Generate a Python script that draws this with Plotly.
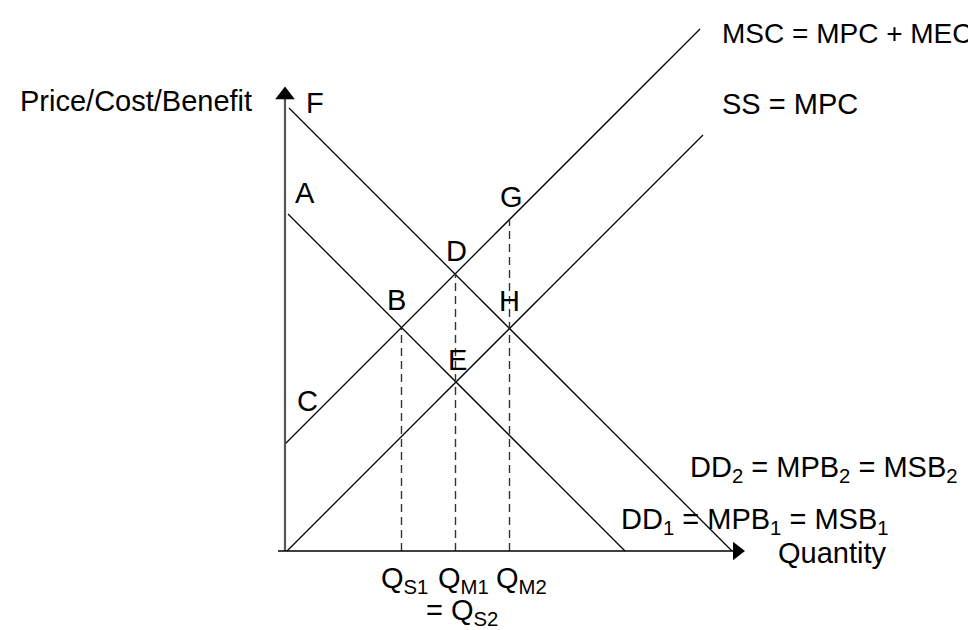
import plotly.graph_objects as go

# ---- curves (units: origin at the axes corner, equal scale on both axes) ----
msc_x = [0, 415]
msc_y = [107, 522]
ss_x = [2, 418]
ss_y = [0, 416]
dd1_x = [3, 340]
dd1_y = [337, 0]
dd2_x = [4, 447]
dd2_y = [443, 0]

# dashed drop lines (quantity, height of the point above it)
q_names = ["QS1", "QM1", "QM2"]
q_x = [116.5, 170.5, 224.5]
q_top = [223.5, 277.5, 331.5]

# axes
yaxis_x = [0, 0]
yaxis_y = [0, 452]
xaxis_x = [-7, 448]
xaxis_y = [0, 0]

# point letters
pt_labels = ["F", "A", "C", "B", "D", "G", "H", "E"]
pt_x = [30, 20, 22, 111, 171, 226, 224, 172]
pt_y = [448, 358, 150, 251, 300, 354, 250, 191]

FONT = dict(family="Liberation Sans, Arial, sans-serif", size=29, color="black")

fig = go.Figure()

def line(x, y, color="black", width=1.3, dash=None):
    fig.add_trace(go.Scatter(x=x, y=y, mode="lines",
                             line=dict(color=color, width=width, dash=dash),
                             hoverinfo="skip", showlegend=False))

line(msc_x, msc_y)
line(ss_x, ss_y)
line(dd1_x, dd1_y)
line(dd2_x, dd2_y)
for qx, qt in zip(q_x, q_top):
    line([qx, qx], [0, qt], color="#333333", width=1.4, dash="8px,5px")

# axes with arrowheads
line(yaxis_x, yaxis_y, color="#555555", width=2.2)
line(xaxis_x, xaxis_y, color="black", width=1.6)
fig.add_trace(go.Scatter(x=[0], y=[yaxis_y[1] + 4], mode="markers",
                         marker=dict(symbol="triangle-up", size=17, color="black"),
                         hoverinfo="skip", showlegend=False))
fig.add_trace(go.Scatter(x=[xaxis_x[1] + 4], y=[0], mode="markers",
                         marker=dict(symbol="triangle-right", size=16, color="black"),
                         hoverinfo="skip", showlegend=False))

ann = []
for t, x, y in zip(pt_labels, pt_x, pt_y):
    ann.append(dict(text=t, x=x, y=y, xanchor="center", yanchor="middle"))

ann += [
    dict(text="Price/Cost/Benefit", x=-267, y=450, xanchor="left", yanchor="middle"),
    dict(text="MSC = MPC + MEC", x=435, y=518, xanchor="left", yanchor="middle",
         font=dict(FONT, size=28)),
    dict(text="SS = MPC", x=435, y=447, xanchor="left", yanchor="middle"),
    dict(text="DD<sub>2</sub> = MPB<sub>2</sub> = MSB<sub>2</sub>", x=403, y=82, xanchor="left", yanchor="middle"),
    dict(text="DD<sub>1</sub> = MPB<sub>1</sub> = MSB<sub>1</sub>", x=334, y=30, xanchor="left", yanchor="middle"),
    dict(text="Quantity", x=491, y=-2, xanchor="left", yanchor="middle"),
    dict(text="Q<sub>S1</sub>", x=94, y=-29, xanchor="left", yanchor="middle"),
    dict(text="Q<sub>M1</sub>", x=151, y=-29, xanchor="left", yanchor="middle"),
    dict(text="Q<sub>M2</sub>", x=209, y=-29, xanchor="left", yanchor="middle"),
    dict(text="= Q<sub>S2</sub>", x=139, y=-61, xanchor="left", yanchor="middle"),
]
for a in ann:
    a.setdefault("font", FONT)
    a.update(showarrow=False, xref="x", yref="y")

fig.update_layout(
    width=976, height=630, autosize=False,
    margin=dict(l=0, r=0, t=0, b=0),
    paper_bgcolor="white", plot_bgcolor="white",
    xaxis=dict(range=[-277, 699], visible=False, fixedrange=True),
    yaxis=dict(range=[-87, 543], visible=False, fixedrange=True),
    annotations=ann,
    showlegend=False,
)
fig.write_html("out.html", config={"displayModeBar": False})
